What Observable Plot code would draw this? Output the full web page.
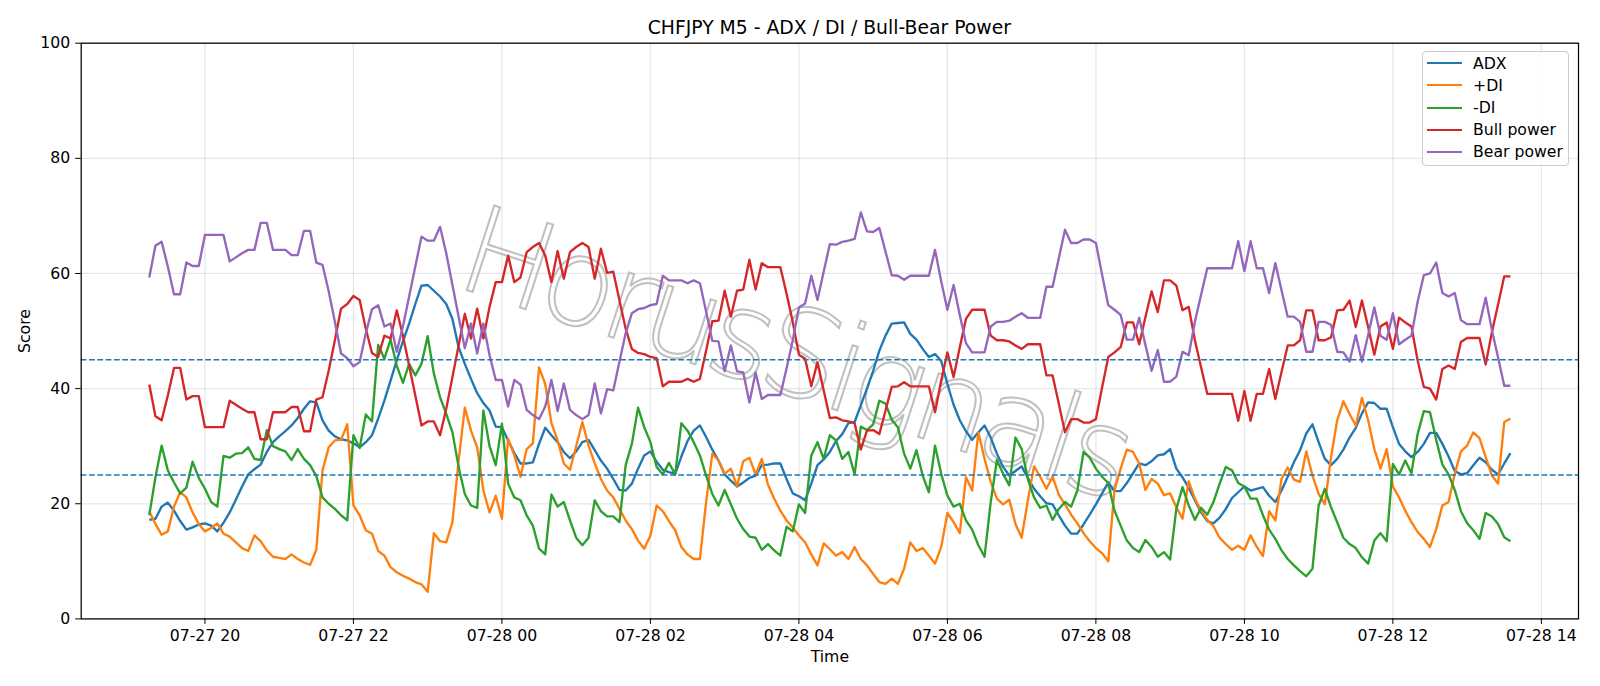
<!DOCTYPE html>
<html><head><meta charset="utf-8">
<script src="https://cdn.jsdelivr.net/npm/d3@7"></script>
<script src="https://cdn.jsdelivr.net/npm/@observablehq/plot@0.6"></script>
<style>
body{margin:0;background:#fff;font-family:"DejaVu Sans",sans-serif;}
#wrap{position:relative;width:1600px;height:686px;overflow:hidden;}
#title{position:absolute;left:80.7px;width:1497.3px;top:17px;text-align:center;font-size:18.8px;color:#000;white-space:nowrap;}
#chart{position:absolute;left:0;top:0;}
#legend{position:absolute;left:1422px;top:51px;width:147px;height:115px;border:1px solid #cccccc;border-radius:4px;background:rgba(255,255,255,0.8);box-sizing:border-box;font-size:15.7px;}
.item{position:absolute;left:4px;height:20px;display:flex;align-items:center;white-space:nowrap;}
.sw{width:35px;height:0;border-top:2.35px solid;margin-right:11px;}
</style></head><body>
<div id="wrap"><div id="chart"></div><div id="title">CHFJPY M5 - ADX / DI / Bull-Bear Power</div><div id="legend"></div></div>
<script>
const startTime = "2025-07-27T19:15:00Z";
const stepMinutes = 5;
const xDomain = ["2025-07-27T18:20:00Z", "2025-07-28T14:30:00Z"];
const xTicks = ["2025-07-27T20:00:00Z","2025-07-27T22:00:00Z","2025-07-28T00:00:00Z","2025-07-28T02:00:00Z","2025-07-28T04:00:00Z","2025-07-28T06:00:00Z","2025-07-28T08:00:00Z","2025-07-28T10:00:00Z","2025-07-28T12:00:00Z","2025-07-28T14:00:00Z"];
const yTicks = [0, 20, 40, 60, 80, 100];
const levelLines = [25, 45];
const seriesNames = ["ADX", "+DI", "-DI", "Bull power", "Bear power"];
const seriesColors = ["#1f77b4", "#ff7f0e", "#2ca02c", "#d62728", "#9467bd"];
const watermarkText = "HorusSignals";

const adx = [17.2,17.4,19.5,20.2,18.8,17.0,15.5,15.9,16.4,16.6,16.2,15.2,16.7,18.5,20.7,23.0,25.1,26.0,26.8,29.0,30.7,31.7,32.6,33.6,34.9,36.5,37.8,37.6,
34.5,32.7,31.7,31.2,31.0,30.5,29.8,30.7,31.9,34.8,37.9,41.4,44.9,48.2,51.3,54.7,57.9,58.0,57.0,56.0,54.7,52.1,47.2,44.3,41.7,39.2,37.5,36.2,
33.4,33.3,31.0,28.8,27.0,27.0,27.2,30.4,33.2,31.9,30.7,29.0,27.9,29.1,30.7,31.1,29.3,27.5,26.1,24.3,22.4,22.3,23.5,26.1,28.4,29.1,27.3,
25.9,25.5,25.2,28.2,30.9,32.7,33.6,31.6,29.4,27.5,25.1,24.0,23.0,23.7,24.5,24.9,26.7,26.8,27.0,27.0,24.3,21.8,21.3,20.6,23.5,26.7,27.7,29.0,
30.9,32.1,34.0,34.2,37.1,40.0,43.1,46.6,49.2,51.3,51.4,51.5,49.5,48.5,46.9,45.5,46.0,44.8,40.8,37.2,34.5,32.6,31.1,32.4,33.6,31.5,28.7,
26.4,24.9,25.7,26.5,24.5,22.6,21.3,20.1,19.9,18.0,16.2,14.8,14.8,16.4,18.1,19.9,21.8,23.7,22.2,22.2,23.6,25.3,27.0,26.7,27.4,28.4,28.6,29.5,
26.1,24.6,22.8,20.6,18.5,17.0,16.6,17.6,19.1,21.0,22.0,23.0,22.3,22.6,22.9,21.4,20.3,22.3,24.7,27.2,29.3,32.2,33.8,30.7,27.8,26.7,27.8,
29.4,31.5,33.2,35.7,37.6,37.5,36.5,36.5,33.3,30.4,29.1,28.1,29.0,30.4,32.3,32.3,30.4,28.2,25.7,25.1,25.3,26.7,28.0,27.2,25.9,25.1,27.0,28.8];

const plusDI = [18.7,16.5,14.6,15.2,19.5,22.0,21.1,18.5,16.5,15.2,15.8,16.6,14.8,14.3,13.3,12.3,11.8,14.5,13.5,11.9,10.8,10.6,10.4,11.2,10.4,9.8,9.4,12.0,
25.8,29.8,31.0,31.1,33.8,19.7,18.0,15.4,14.8,11.8,11.0,9.0,8.1,7.5,7.0,6.4,6.0,4.7,14.9,13.5,13.3,16.8,27.5,36.7,32.7,29.8,22.3,18.5,
21.4,17.4,31.3,28.4,24.7,29.5,30.5,43.7,40.8,34.0,31.0,27.0,25.9,30.0,34.2,30.1,27.0,24.3,22.3,21.1,19.1,17.1,15.6,13.6,12.2,14.5,19.7,
18.7,17.0,15.4,12.5,11.2,10.4,10.4,20.3,28.7,27.5,25.2,26.1,23.0,27.4,28.0,25.1,27.8,23.3,20.9,18.8,17.1,15.9,14.5,13.3,11.2,9.3,13.1,12.1,
11.0,11.6,10.4,12.5,10.4,9.3,7.8,6.4,6.1,7.0,6.1,8.7,13.3,11.8,12.3,11.0,9.6,12.5,18.4,16.8,14.9,24.6,22.3,32.4,27.8,23.8,20.9,
19.9,20.7,16.5,14.1,20.6,26.5,24.7,22.6,24.7,21.6,19.9,18.1,16.6,14.9,13.5,12.3,11.4,10.0,22.3,26.1,29.4,29.0,27.0,22.4,24.3,23.5,21.5,21.8,
19.4,17.4,23.9,20.9,18.8,17.2,16.1,14.1,13.0,12.0,12.7,12.0,14.5,12.5,10.9,18.7,17.1,24.3,26.3,24.2,23.8,29.1,24.9,21.7,19.9,28.1,34.5,
37.8,35.6,33.6,38.4,34.5,29.5,26.1,29.5,23.0,21.1,18.8,16.8,15.1,13.9,12.5,15.6,19.7,20.3,25.2,29.1,30.1,32.4,31.4,28.1,24.9,23.5,34.2,34.8];

const minusDI = [18.0,24.6,30.1,25.8,23.7,21.8,22.8,27.3,24.5,22.6,20.3,19.5,28.3,28.0,28.7,28.8,29.8,27.8,27.6,32.8,30.0,29.5,29.1,27.6,29.5,27.8,26.7,24.8,
21.1,20.0,19.1,18.0,17.1,31.9,29.7,35.5,34.3,47.6,45.2,48.5,44.0,41.0,44.3,42.3,44.3,49.1,42.6,38.5,35.6,32.4,26.4,21.7,19.7,19.3,36.2,30.0,
26.7,33.9,23.5,21.1,20.6,18.0,16.2,12.2,11.2,21.6,19.5,20.3,17.1,14.1,12.8,14.1,20.6,18.7,17.8,17.8,16.8,26.7,30.4,36.7,33.3,30.7,26.4,
25.1,27.1,25.1,34.0,32.7,30.7,28.4,24.9,21.7,19.7,22.4,19.9,17.4,15.6,14.3,14.1,12.0,13.0,11.9,11.0,16.0,15.2,19.9,18.4,28.4,30.7,27.8,31.9,
31.0,27.8,29.0,25.1,33.4,32.8,33.8,37.9,37.4,34.6,33.3,28.7,26.1,29.3,24.9,22.0,30.1,25.2,21.4,19.5,20.0,17.1,15.5,12.8,10.8,20.3,27.6,
25.2,23.2,31.5,29.5,24.3,21.1,19.3,19.7,17.2,19.1,20.3,19.5,22.3,29.0,28.0,26.1,24.7,23.6,18.8,16.2,13.6,12.3,11.6,13.7,12.5,10.8,11.6,10.3,
19.1,22.9,19.7,17.2,19.3,18.1,20.3,23.5,26.4,25.8,23.6,23.0,20.9,20.9,18.0,15.5,13.9,11.9,10.4,9.3,8.3,7.4,8.7,19.7,22.6,19.4,16.8,
14.1,13.0,12.3,10.7,9.6,13.6,14.9,13.5,26.9,25.1,27.5,25.3,32.1,36.1,35.9,31.1,26.8,25.1,22.4,18.7,16.6,15.4,13.9,18.4,17.8,16.5,14.2,13.5];

const bullPower = [40.7,35.2,34.5,38.8,43.6,43.6,38.1,38.7,38.7,33.3,33.3,33.3,33.3,37.9,37.2,36.5,35.9,35.9,31.2,31.2,35.9,35.9,35.9,36.8,36.8,32.6,32.6,38.1,
38.5,43.1,48.4,53.9,54.7,56.1,55.4,50.4,46.2,45.5,49.2,48.7,53.6,49.2,44.0,38.8,33.6,34.3,34.3,31.9,36.5,42.0,47.5,53.0,48.7,53.9,48.7,54.2,
58.5,58.5,63.1,58.5,59.3,63.7,64.6,65.3,63.1,58.5,63.9,59.1,63.7,64.6,65.3,64.6,59.1,64.3,60.1,60.3,55.3,50.4,46.9,46.2,46.0,45.5,45.3,
40.4,41.2,41.2,41.2,41.7,41.2,41.7,46.6,51.7,51.8,57.0,52.5,57.0,57.2,62.4,57.2,61.8,61.1,61.1,61.1,56.5,51.6,45.9,45.2,40.4,44.6,39.7,34.9,
35.0,34.5,34.3,34.0,29.4,32.7,32.8,32.1,36.2,40.3,40.4,41.1,40.4,40.4,40.4,40.4,35.9,41.4,46.3,42.0,47.2,52.1,53.7,53.7,53.7,49.2,48.4,
48.4,48.2,47.5,46.9,47.7,47.7,47.7,42.3,42.3,37.4,32.4,34.7,34.7,34.1,34.1,34.7,40.2,45.5,46.3,47.2,51.5,51.5,47.7,52.4,56.9,53.3,58.8,58.8,
57.9,53.6,54.2,48.4,43.7,39.1,39.1,39.1,39.1,39.1,34.4,39.6,34.4,39.1,39.1,43.4,38.2,42.9,47.5,47.5,48.4,53.6,53.6,48.4,48.4,48.9,53.6,
53.7,55.3,50.7,55.3,50.7,45.9,50.8,51.5,46.9,52.3,51.5,50.8,44.9,40.3,40.0,38.1,43.4,44.0,43.4,48.1,48.8,48.8,48.8,44.2,49.8,54.6,59.5,59.5];

const bearPower = [59.3,64.8,65.5,61.2,56.4,56.4,61.9,61.3,61.3,66.7,66.7,66.7,66.7,62.1,62.8,63.5,64.1,64.1,68.8,68.8,64.1,64.1,64.1,63.2,63.2,67.4,67.4,61.9,
61.5,56.9,51.6,46.1,45.3,43.9,44.6,49.6,53.8,54.5,50.8,51.3,46.4,50.8,56.0,61.2,66.4,65.7,65.7,68.1,63.5,58.0,52.5,47.0,51.3,46.1,51.3,45.8,
41.5,41.5,36.9,41.5,40.7,36.3,35.4,34.7,36.9,41.5,36.1,40.9,36.3,35.4,34.7,35.4,40.9,35.7,39.9,39.7,44.7,49.6,53.1,53.8,54.0,54.5,54.7,
59.6,58.8,58.8,58.8,58.3,58.8,58.3,53.4,48.3,48.2,43.0,47.5,43.0,42.8,37.6,42.8,38.2,38.9,38.9,38.9,43.5,48.4,54.1,54.8,59.6,55.4,60.3,65.1,
65.0,65.5,65.7,66.0,70.6,67.3,67.2,67.9,63.8,59.7,59.6,58.9,59.6,59.6,59.6,59.6,64.1,58.6,53.7,58.0,52.8,47.9,46.3,46.3,46.3,50.8,51.6,
51.6,51.8,52.5,53.1,52.3,52.3,52.3,57.7,57.7,62.6,67.6,65.3,65.3,65.9,65.9,65.3,59.8,54.5,53.7,52.8,48.5,48.5,52.3,47.6,43.1,46.7,41.2,41.2,
42.1,46.4,45.8,51.6,56.3,60.9,60.9,60.9,60.9,60.9,65.6,60.4,65.6,60.9,60.9,56.6,61.8,57.1,52.5,52.5,51.6,46.4,46.4,51.6,51.6,51.1,46.4,
46.3,44.7,49.3,44.7,49.3,54.1,49.2,48.5,53.1,47.7,48.5,49.2,55.1,59.7,60.0,61.9,56.6,56.0,56.6,51.9,51.2,51.2,51.2,55.8,50.2,45.4,40.5,40.5];

const seriesValues = [adx, plusDI, minusDI, bullPower, bearPower];
const lens = seriesValues.map(a => a.length);
if (new Set(lens).size !== 1) throw new Error("length mismatch " + lens.join(","));

const t0 = new Date(startTime);
const times = adx.map((_, i) => new Date(+t0 + i * stepMinutes * 60000));
const rows = [];
seriesNames.forEach((name, k) => seriesValues[k].forEach((v, i) => rows.push({time: times[i], value: v, series: name})));

const W = 1600, H = 686;
const mL = 80.7, mR = 22, mT = 42.7, mB = 67.6;
const tickDates = xTicks.map(d => new Date(d));

const chart = Plot.plot({
  width: W, height: H,
  marginLeft: mL, marginRight: mR, marginTop: mT, marginBottom: mB,
  style: {fontFamily: "DejaVu Sans", fontSize: "15.7px", background: "white", color: "black", overflow: "visible"},
  x: {type: "utc", domain: xDomain.map(d => new Date(d))},
  y: {domain: [0, 100]},
  color: {domain: seriesNames, range: seriesColors},
  marks: [
    Plot.gridX(tickDates, {stroke: "#b0b0b0", strokeOpacity: 0.3, strokeWidth: 1.25}),
    Plot.gridY(yTicks, {stroke: "#b0b0b0", strokeOpacity: 0.3, strokeWidth: 1.25}),
    Plot.line(rows, {x: "time", y: "value", z: "series", stroke: "series", strokeWidth: 2.35, strokeLinejoin: "round", strokeLinecap: "butt"}),
    Plot.ruleY(levelLines, {stroke: "#1f77b4", strokeWidth: 1.57, strokeDasharray: "5.8,2.5"}),
    Plot.frame({stroke: "black", strokeWidth: 1.25}),
    Plot.axisX(tickDates, {tickFormat: d3.utcFormat("%m-%d %H"), tickSize: 5.5, tickPadding: 5.5, fontSize: 15.7, label: "Time", labelAnchor: "center", labelArrow: "none", labelOffset: 43}),
    Plot.axisY(yTicks, {tickSize: 5.5, tickPadding: 5.5, fontSize: 15.7, label: "Score", labelAnchor: "center", labelArrow: "none", labelOffset: 62})
  ]
});
document.getElementById("chart").appendChild(chart);

// watermark (outlined, light gray, tilted)
const svg = d3.select(chart);
svg.insert("text", "g[aria-label='line']")
  .attr("transform", "translate(796,362) rotate(18)")
  .attr("text-anchor", "middle")
  .attr("dominant-baseline", "middle")
  .attr("font-family", "DejaVu Sans")
  .attr("font-weight", 200)
  .attr("font-size", 122)
  .attr("fill", "none")
  .attr("stroke", "#c0c0c0")
  .attr("stroke-width", 2)
  .attr("textLength", 700)
  .attr("lengthAdjust", "spacing")
  .text(watermarkText);

// legend
const legend = d3.select("#legend");
const rowCenters = [12.3, 34.4, 56.5, 78.6, 100.7];
seriesNames.forEach((name, k) => {
  const it = legend.append("div").attr("class", "item").style("top", (rowCenters[k] - 11) + "px");
  it.append("div").attr("class", "sw").style("border-top-color", seriesColors[k]);
  it.append("span").text(name);
});
</script>
</body></html>
